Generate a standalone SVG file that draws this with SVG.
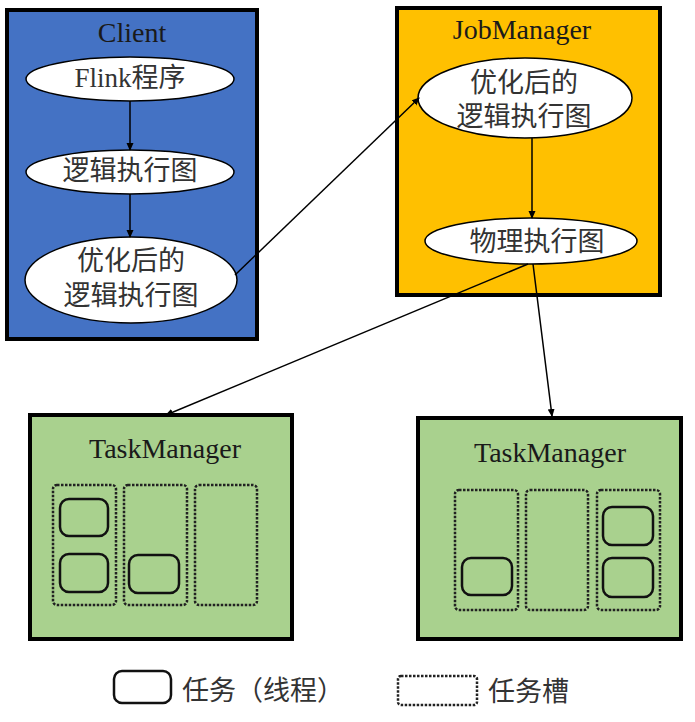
<svg xmlns="http://www.w3.org/2000/svg" width="695" height="722" viewBox="0 0 695 722">
<defs>
<marker id="ah" markerWidth="8" markerHeight="8" refX="7" refY="4" orient="auto" markerUnits="userSpaceOnUse">
<path d="M0,0.5 L8,4 L0,7.5 z" fill="#000"/>
</marker>
<style>
.box{stroke:#000;stroke-width:4}
.ell{fill:#fff;stroke:#000;stroke-width:1.5}
.ttl{font-family:"Liberation Serif","Times New Roman",serif;font-size:28px;fill:#1a1a1a;text-anchor:middle}
.cn{font-family:"Liberation Serif","Noto Sans CJK SC",serif;font-size:27px;fill:#333;text-anchor:middle;dominant-baseline:central}
.slot{fill:none;stroke:#222;stroke-width:2.5;stroke-dasharray:2.5 1.5}
.task{fill:none;stroke:#111;stroke-width:2.5}
.conn{stroke:#000;stroke-width:1.5;fill:none;marker-end:url(#ah)}
.leg{font-family:"Noto Sans CJK SC",sans-serif;font-size:27px;fill:#333;dominant-baseline:central}
</style>
</defs>
<rect width="695" height="722" fill="#fff"/>

<g id="client">
<rect class="box" x="7" y="10" width="250" height="329" fill="#4472C4"/>
<text class="ttl" x="132" y="42">Client</text>
</g>
<g id="flink-program">
<ellipse class="ell" cx="130" cy="79" rx="104" ry="22"/>
<text class="cn" x="130" y="78">Flink程序</text>
</g>
<g id="logical-graph">
<ellipse class="ell" cx="130" cy="172" rx="104" ry="22"/>
<text class="cn" x="130" y="171">逻辑执行图</text>
</g>
<g id="optimized-client">
<ellipse class="ell" cx="131" cy="280" rx="106" ry="43"/>
<text class="cn" x="131" y="261">优化后的</text>
<text class="cn" x="131" y="296">逻辑执行图</text>
</g>

<g id="jobmanager">
<rect class="box" x="397" y="8" width="263" height="287" fill="#FFC000"/>
<text class="ttl" x="522" y="39">JobManager</text>
</g>
<g id="optimized-jm">
<ellipse class="ell" cx="525" cy="98" rx="107" ry="40"/>
<text class="cn" x="524" y="83">优化后的</text>
<text class="cn" x="524" y="117">逻辑执行图</text>
</g>
<g id="physical-graph">
<ellipse class="ell" cx="531" cy="241" rx="106" ry="23"/>
<text class="cn" x="537" y="242">物理执行图</text>
</g>

<g id="taskmanager-1">
<rect class="box" x="30" y="415" width="262" height="224" fill="#A9D18E"/>
<text class="ttl" x="165" y="458">TaskManager</text>
<rect class="slot" x="53" y="485" width="63" height="120" rx="4"/>
<rect class="slot" x="124" y="485" width="63" height="120" rx="4"/>
<rect class="slot" x="195" y="485" width="62" height="120" rx="4"/>
<rect class="task" x="60" y="499" width="48" height="37" rx="9"/>
<rect class="task" x="60" y="554" width="48" height="38" rx="9"/>
<rect class="task" x="129" y="555" width="50" height="38" rx="9"/>
</g>

<g id="taskmanager-2">
<rect class="box" x="418" y="418" width="263" height="221" fill="#A9D18E"/>
<text class="ttl" x="550" y="462">TaskManager</text>
<rect class="slot" x="455" y="490" width="63" height="120" rx="4"/>
<rect class="slot" x="526" y="490" width="62" height="120" rx="4"/>
<rect class="slot" x="597" y="490" width="63" height="120" rx="4"/>
<rect class="task" x="462" y="558" width="50" height="37" rx="9"/>
<rect class="task" x="603" y="507" width="50" height="38" rx="9"/>
<rect class="task" x="603" y="558" width="50" height="39" rx="9"/>
</g>

<g id="connectors">
<line class="conn" x1="130" y1="101" x2="130" y2="150"/>
<line class="conn" x1="130" y1="194" x2="130" y2="237"/>
<line class="conn" x1="532" y1="138" x2="532" y2="218"/>
<line class="conn" x1="235" y1="275" x2="419" y2="98"/>
<line class="conn" x1="528" y1="264" x2="166" y2="415"/>
<line class="conn" x1="533" y1="264" x2="552" y2="416"/>
</g>

<g id="legend">
<rect class="task" x="114" y="671" width="57" height="32" rx="8"/>
<text class="leg" x="182" y="688">任务（线程）</text>
<rect class="slot" x="398" y="676" width="79" height="29" rx="3"/>
<text class="leg" x="488" y="689">任务槽</text>
</g>
</svg>
